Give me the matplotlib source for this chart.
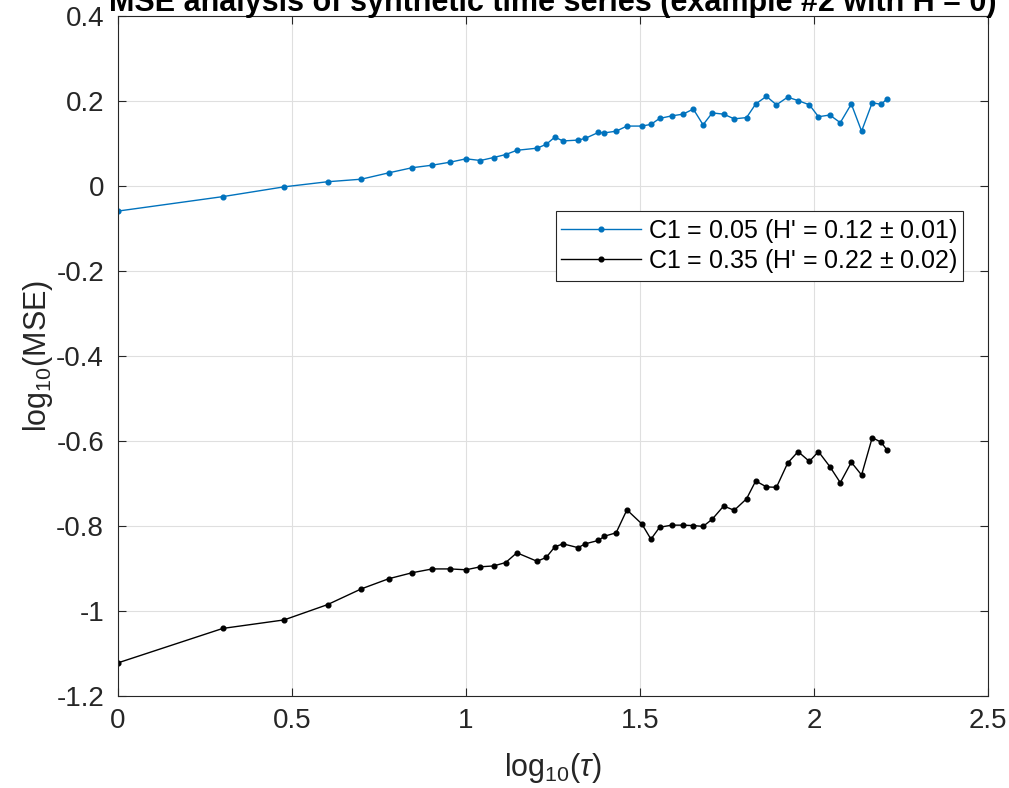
import numpy as np
import matplotlib
matplotlib.use("Agg")
import matplotlib.pyplot as plt
from matplotlib.ticker import FixedLocator

plt.rcParams['font.family'] = ['Liberation Sans', 'DejaVu Sans']
plt.rcParams['mathtext.fontset'] = 'custom'
plt.rcParams['mathtext.rm'] = 'Liberation Sans'
plt.rcParams['mathtext.it'] = 'Liberation Sans:italic'
plt.rcParams['axes.unicode_minus'] = False

# scales (tau) and MSE values
tau = [1, 2, 3, 4, 5, 6, 7, 8, 9, 10, 11, 12, 13, 14, 16, 17, 18, 19, 21, 22,
       24, 25, 27, 29, 32, 34, 36, 39, 42, 45, 48, 51, 55, 59, 64, 68, 73, 78,
       84, 90, 97, 103, 111, 119, 128, 137, 147, 156, 162]

mse_c005 = [-0.059, -0.025, -0.002, 0.010, 0.016, 0.031, 0.043, 0.049, 0.056, 0.064,
            0.060, 0.067, 0.074, 0.084, 0.089, 0.098, 0.115, 0.106, 0.108, 0.112,
            0.126, 0.125, 0.129, 0.141, 0.141, 0.145, 0.159, 0.165, 0.169, 0.181,
            0.144, 0.172, 0.169, 0.158, 0.161, 0.193, 0.211, 0.191, 0.209, 0.201,
            0.191, 0.163, 0.167, 0.149, 0.193, 0.129, 0.196, 0.192, 0.205]

mse_c035 = [-1.122, -1.041, -1.021, -0.985, -0.948, -0.924, -0.910, -0.901, -0.901, -0.903,
            -0.896, -0.894, -0.886, -0.863, -0.883, -0.874, -0.849, -0.842, -0.851, -0.842,
            -0.834, -0.824, -0.816, -0.762, -0.795, -0.831, -0.803, -0.798, -0.798, -0.799,
            -0.801, -0.784, -0.753, -0.763, -0.736, -0.694, -0.708, -0.709, -0.652, -0.625,
            -0.648, -0.625, -0.660, -0.698, -0.650, -0.680, -0.592, -0.603, -0.621]

labels = ["C1 = 0.05 (H' = 0.12 $\\pm$ 0.01)", "C1 = 0.35 (H' = 0.22 $\\pm$ 0.02)"]
title = "MSE analysis of synthetic time series (example #2 with H = 0)"

xticks = [0, 0.5, 1, 1.5, 2, 2.5]
xticklabels = ['0', '0.5', '1', '1.5', '2', '2.5']
yticks = [-1.2, -1.0, -0.8, -0.6, -0.4, -0.2, 0.0, 0.2, 0.4]
yticklabels = ['-1.2', '-1', '-0.8', '-0.6', '-0.4', '-0.2', '0', '0.2', '0.4']

axcol = '#262626'
fig = plt.figure(figsize=(10.09, 7.88), dpi=100)
ax = fig.add_axes([118/1009, 1 - 696/788, 870/1009, 680/788])

x = np.log10(tau)
ax.plot(x, mse_c005, '-o', color='#0072BD', lw=1.0, ms=3.4, label=labels[0])
ax.plot(x, mse_c035, '-o', color='black', lw=1.0, ms=3.4, label=labels[1])

ax.set_xlim(0, 2.5)
ax.set_ylim(-1.2, 0.4)
ax.xaxis.set_major_locator(FixedLocator(xticks))
ax.set_xticklabels(xticklabels)
ax.yaxis.set_major_locator(FixedLocator(yticks))
ax.set_yticklabels(yticklabels)
ax.tick_params(direction='in', length=6, width=0.8, colors=axcol, labelsize=20,
               top=True, right=True)
ax.tick_params(axis='x', pad=9)
ax.tick_params(axis='y', pad=10)
for s in ax.spines.values():
    s.set_color(axcol)
    s.set_linewidth(0.8)
ax.grid(True, color='#dfdfdf', lw=0.8)
ax.set_axisbelow(True)

ax.set_xlabel(r'log$_{10}$($\tau$)', fontsize=22, color=axcol, labelpad=12)
ax.set_ylabel(r'log$_{10}$(MSE)', fontsize=22, color=axcol, labelpad=1)

leg = ax.legend(loc='upper right', bbox_to_anchor=(0.971, 0.713), borderaxespad=0,
                fontsize=18, fancybox=False, framealpha=1, edgecolor=axcol,
                handlelength=3.2, handletextpad=0.27, labelspacing=0.1,
                borderpad=0.22)
leg.get_frame().set_linewidth(0.8)

fig.text(553/1009, 1 - 11/788, title, ha='center', va='baseline', fontsize=22,
         fontweight='bold', color='black')

fig.savefig('out.png', dpi=100)
